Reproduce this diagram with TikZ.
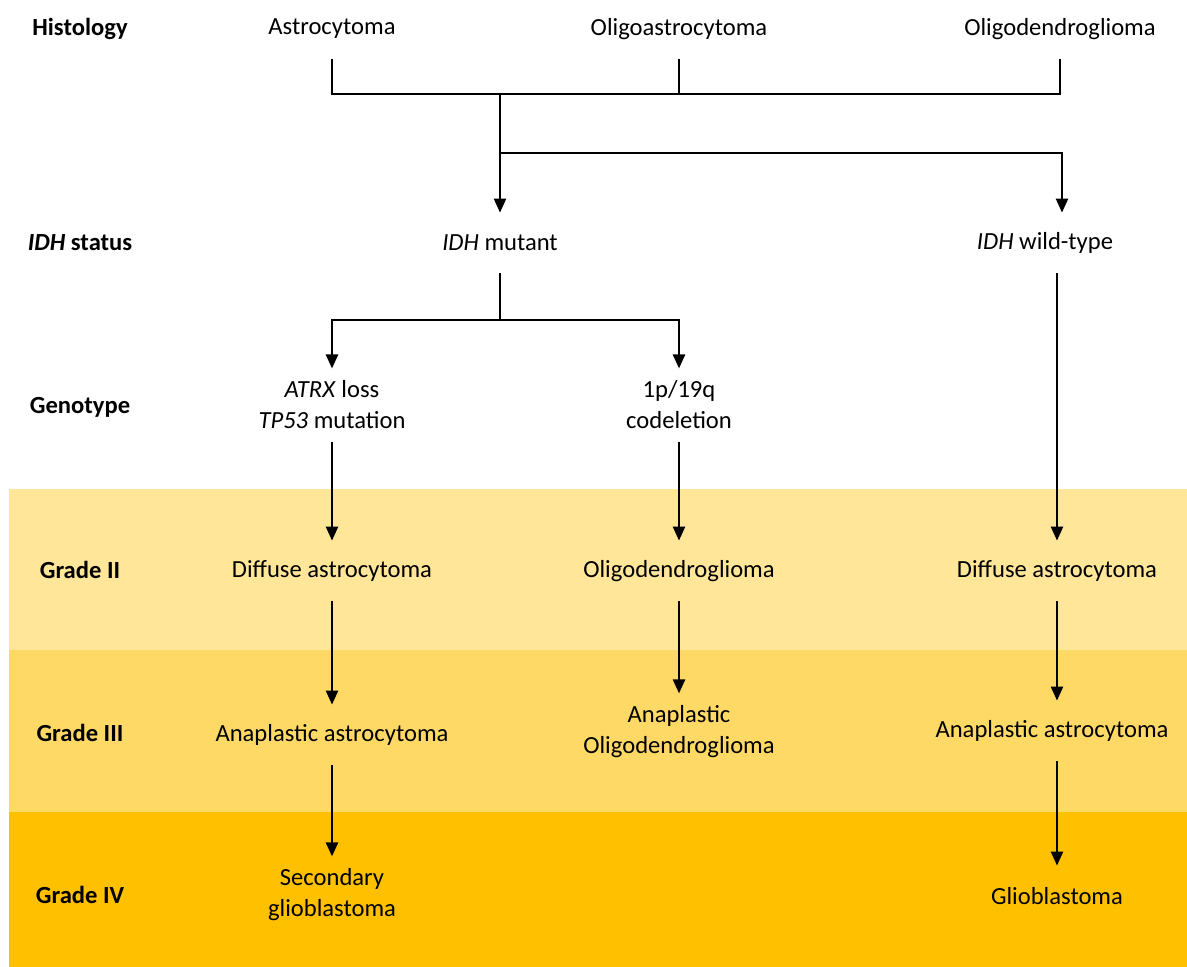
\documentclass[tikz,border=0pt]{standalone}
\usepackage{fontspec}
\setmainfont{Carlito}
\usetikzlibrary{arrows.meta}
\definecolor{gradetwo}{HTML}{FFE699}
\definecolor{gradethree}{HTML}{FFD966}
\definecolor{gradefour}{HTML}{FFC000}
\begin{document}
\begin{tikzpicture}[x=0.5pt, y=-0.5pt,
	every node/.style={font=\fontsize{12.3}{15.5}\selectfont},
	rowlabel/.style={font=\fontsize{12.3}{15.5}\selectfont\bfseries},
	entity/.style={align=center, inner ysep=6pt, minimum height=30pt},
	conn/.style={line width=1.2pt},
	arr/.style={conn, -{Triangle[width=6pt,length=7pt]}}]
			\useasboundingbox (0,0) rectangle (1187,967);
			\fill[gradetwo] (9,489) rectangle (1187,650);
			\fill[gradethree] (9,650) rectangle (1187,812);
			\fill[gradefour] (9,812) rectangle (1187,967);
			\node[rowlabel] (histology) at (80,29) {Histology};
			\node[rowlabel] (idhstatus) at (80,243) {\textit{IDH} status};
			\node[rowlabel] (genotype) at (80,407) {Genotype};
			\node[rowlabel] (gradeII) at (80,570) {Grade II};
			\node[rowlabel] (gradeIII) at (80,733) {Grade III};
			\node[rowlabel] (gradeIV) at (80,895) {Grade IV};
			\node[entity] (astro) at (332,29) {Astrocytoma};
			\node[entity] (oligoastro) at (679,29) {Oligoastrocytoma};
			\node[entity] (oligoden) at (1060,29) {Oligodendroglioma};
			\node[entity] (mutant) at (500,243) {\textit{IDH} mutant};
			\node[entity] (wildtype) at (1045,243) {\textit{IDH} wild-type};
			\node[entity] (atrx) at (332,405) {\textit{ATRX} loss\\\textit{TP53} mutation};
			\node[entity] (codel) at (679,405) {1p/19q\\codeletion};
			\node[entity] (diffuseA) at (332,571) {Diffuse astrocytoma};
			\node[entity] (oligoB) at (679,571) {Oligodendroglioma};
			\node[entity] (diffuseC) at (1057,571) {Diffuse astrocytoma};
			\node[entity] (anaplA) at (332,735) {Anaplastic astrocytoma};
			\node[entity] (anaplB) at (679,732) {Anaplastic\\Oligodendroglioma};
			\node[entity] (anaplC) at (1052,731) {Anaplastic astrocytoma};
			\node[entity] (secondary) at (332,895) {Secondary\\glioblastoma};
			\node[entity] (glio) at (1057,896) {Glioblastoma};
			\coordinate (histbar) at (500,94);
			\coordinate (idhsplit) at (500,153);
			\coordinate (wtbend) at (1062,153);
			\coordinate (genesplit) at (500,320);
			\draw[conn] (astro) -- (astro |- histbar) -- (oligoden |- histbar) -- (oligoden);
			\draw[conn] (oligoastro) -- (oligoastro |- histbar);
			\draw[arr] (histbar) -- (mutant);
			\draw[arr] (idhsplit) -- (wtbend) -- (wtbend |- wildtype.north);
			\draw[conn] (mutant) -- (genesplit);
			\draw[arr] (genesplit) -| (atrx);
			\draw[arr] (genesplit) -| (codel);
			\draw[arr] (atrx) -- (diffuseA);
			\draw[arr] (codel) -- (oligoB);
			\draw[arr] (wildtype.south -| diffuseC) -- (diffuseC);
			\draw[arr] (diffuseA) -- (anaplA);
			\draw[arr] (oligoB) -- (anaplB);
			\draw[arr] (diffuseC) -- (diffuseC |- anaplC.north);
			\draw[arr] (anaplA) -- (secondary);
			\draw[arr] (diffuseC |- anaplC.south) -- (glio);
\end{tikzpicture}
\end{document}
